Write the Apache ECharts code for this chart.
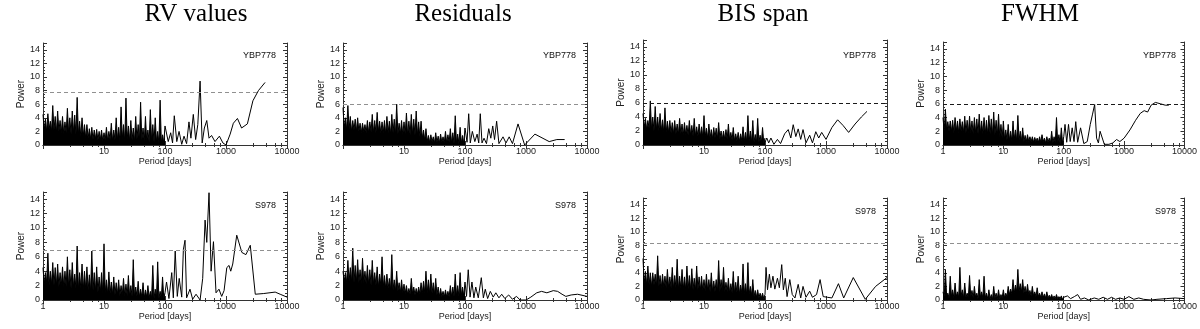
<!DOCTYPE html>
<html><head><meta charset="utf-8">
<script src="https://cdn.jsdelivr.net/npm/echarts/dist/echarts.min.js"></script>
<style>html,body{margin:0;padding:0;background:#fff}#c{width:1200px;height:329px}</style>
</head><body><div id="c"></div>
<script>
// ---- data ----
const panelTitles = ['RV values', 'Residuals', 'BIS span', 'FWHM'];
const starNames = ['YBP778', 'S978'];
const xTickLabels = [1, 10, 100, 1000, 10000];
const yTickLabels = [0, 2, 4, 6, 8, 10, 12, 14];

// periods (days) of the dense short-period part (1-100 d); even entries carry the spike tops, odd entries the noise floor
const finePeriods = [1,1.047,1.096,1.148,1.202,1.259,1.318,1.380,1.445,1.514,1.585,1.660,1.738,1.820,1.905,1.995,2.089,2.188,2.291,2.399,2.512,2.630,2.754,2.884,3.020,3.162,3.311,3.467,3.631,3.802,3.981,4.169,4.365,4.571,4.786,5.012,5.248,5.495,5.754,6.026,6.310,6.607,6.918,7.244,7.586,7.943,8.318,8.710,9.120,9.550,10,10.47,10.96,11.48,12.02,12.59,13.18,13.80,14.45,15.14,15.85,16.60,17.38,18.20,19.05,19.95,20.89,21.88,22.91,23.99,25.12,26.30,27.54,28.84,30.20,31.62,33.11,34.67,36.31,38.02,39.81,41.69,43.65,45.71,47.86,50.12,52.48,54.95,57.54,60.26,63.10,66.07,69.18,72.44,75.86,79.43,83.18,87.10,91.20,95.50,100];

// ---- YBP778 (top row) ----
const rvTopPeaks = [4.5,3.8,4.6,3.5,5.8,4.2,5.0,3.6,4.2,3.4,5.4,4.0,5.0,4.4,7.0,3.5,4.0,3.0,3.0,2.4,2.6,2.2,2.3,2.0,2.2,1.8,2.6,2.0,3.2,2.2,4.0,2.6,5.6,3.0,6.9,2.8,3.6,2.5,4.2,3.0,6.3,2.5,4.2,2.2,5.2,3.0,4.0,2.0,6.6,1.5,2.8];
const rvTopFloor = [2.2,2.0,2.3,2.0,2.2,1.8,2.0,1.8,1.6,1.8,1.8,1.6,1.8,1.5,1.6,1.2,1.3,1.0,1.0,0.9,0.8,0.9,0.7,0.8,0.6,0.7,0.6,0.8,0.6,0.7,0.8,0.6,0.9,0.5,0.8,0.6,0.7,0.5,0.8,0.5,0.7,0.5,0.6,0.4,0.6,0.4,0.5,0.3,0.4,0.3];
const rvTopTail = [[100,2.8],[113,0.5],[124,1.8],[133,0.3],[142,4.3],[156,0.5],[170,2.0],[188,0.1],[205,1.3],[226,0.2],[247,3.4],[266,1.0],[291,4.5],[318,0.8],[345,3.0],[376,9.4],[407,0.3],[442,2.5],[484,3.6],[527,1.0],[580,1.4],[660,0.5],[780,1.3],[890,0.3],[1000,0.0],[1170,1.6],[1320,3.2],[1540,3.9],[1800,2.5],[2240,3.1],[2760,6.5],[3400,8.0],[4370,9.2]];

const resTopPeaks = [5.5,4.0,5.8,4.2,3.6,3.8,4.0,3.2,3.2,3.0,3.6,3.4,4.5,3.6,4.8,3.5,3.4,3.6,4.2,3.5,4.5,3.8,6.0,3.2,3.6,3.4,4.7,3.5,4.5,3.8,5.0,3.4,3.5,2.2,2.4,1.4,1.5,1.2,1.8,1.3,1.6,1.2,2.0,1.5,2.4,1.8,4.3,1.6,2.6,1.4,2.5];
const resTopFloor = [2.5,2.2,2.4,2.0,2.2,2.0,2.0,1.8,2.0,1.8,1.8,2.0,1.8,1.8,2.0,1.7,1.8,1.6,1.8,1.6,1.8,1.5,1.6,1.6,1.5,1.6,1.4,1.5,1.6,1.4,1.5,1.2,1.0,0.7,0.5,0.4,0.5,0.3,0.4,0.3,0.4,0.3,0.3,0.4,0.3,0.2,0.3,0.2,0.3,0.2];
const resTopTail = [[100,2.5],[108,0.4],[115,4.6],[122,0.3],[132,2.0],[145,0.5],[158,1.6],[168,0.3],[178,4.6],[190,0.3],[205,1.0],[225,0.2],[245,2.4],[265,1.0],[285,2.8],[305,0.8],[330,3.5],[360,0.2],[420,1.2],[470,0.3],[530,1.2],[600,0.2],[740,3.1],[950,0.0],[1400,1.6],[2400,0.5],[3200,0.8],[4300,0.8]];

const bisTopPeaks = [4.5,3.8,3.5,6.3,4.0,5.5,4.0,4.5,3.6,5.3,3.4,3.5,3.2,3.5,3.0,3.8,3.0,3.2,2.8,3.5,2.8,3.8,2.6,3.0,2.6,4.2,2.4,3.0,2.2,2.5,2.4,3.2,2.0,2.0,2.2,3.0,1.8,2.5,1.6,1.8,1.6,2.6,1.8,4.2,2.0,3.5,1.5,3.8,1.4,2.5,1.0];
const bisTopFloor = [2.4,2.2,2.4,2.2,2.0,2.2,2.0,2.0,1.8,1.8,1.8,1.7,1.6,1.6,1.5,1.6,1.4,1.5,1.4,1.4,1.3,1.3,1.2,1.2,1.1,1.2,1.0,1.0,0.9,1.0,0.9,0.9,0.8,0.8,0.8,0.7,0.7,0.6,0.6,0.5,0.6,0.5,0.5,0.5,0.4,0.4,0.3,0.4,0.3,0.3];
const bisTopTail = [[100,0.4],[107,1.0],[115,0.3],[125,1.0],[140,0.1],[160,0.8],[180,0.2],[210,1.6],[240,2.2],[265,1.0],[290,2.9],[320,1.2],[350,2.3],[385,0.8],[420,2.2],[470,0.3],[540,1.4],[600,0.3],[680,1.9],[760,1.0],[850,1.8],[1000,0.8],[1250,2.5],[1550,3.6],[1900,2.8],[2350,1.8],[3000,3.0],[3800,4.0],[4700,4.8]];

const fwhmTopPeaks = [4.0,5.2,3.4,3.5,3.6,4.0,3.5,3.8,3.4,4.2,3.6,4.2,3.5,4.0,3.8,4.5,3.5,4.0,3.6,4.3,3.8,4.8,3.6,4.5,3.0,3.5,2.2,3.0,2.0,3.5,2.2,4.3,2.0,2.5,1.4,1.5,1.2,1.2,1.1,1.0,1.2,1.5,1.0,1.2,1.0,2.0,1.2,4.0,1.5,2.5,1.2];
const fwhmTopFloor = [2.0,2.2,2.0,2.0,1.8,2.0,1.8,2.0,1.8,1.8,1.8,1.8,1.6,1.8,1.6,1.7,1.6,1.6,1.5,1.6,1.5,1.5,1.4,1.2,1.0,0.8,0.7,0.7,0.6,0.8,0.6,0.7,0.6,0.5,0.5,0.5,0.5,0.4,0.5,0.4,0.4,0.5,0.3,0.4,0.3,0.3,0.3,0.3,0.2,0.3];
const fwhmTopTail = [[100,1.2],[105,3.0],[112,0.4],[120,3.0],[128,0.5],[138,2.5],[148,0.5],[158,3.4],[170,0.4],[190,2.5],[215,0.2],[245,0.5],[275,3.0],[300,4.5],[325,5.9],[350,1.0],[375,0.3],[400,2.0],[430,1.8],[470,0.1],[560,0.1],[650,0.3],[750,0.8],[850,0.5],[1000,1.0],[1250,2.2],[1550,3.6],[1850,4.6],[2150,5.0],[2450,4.8],[2800,5.8],[3300,6.2],[4000,6.0],[4800,5.8],[5500,5.8]];

// ---- S978 (bottom row) ----
const rvBotPeaks = [4.5,3.8,6.5,4.0,5.2,4.5,5.0,3.8,4.6,4.0,6.0,4.2,5.2,3.6,7.5,3.8,5.0,4.0,4.6,3.5,6.8,3.8,4.6,3.2,3.8,7.8,2.8,3.9,2.5,3.2,2.4,2.8,2.0,3.0,2.2,3.4,2.0,5.6,1.8,2.6,1.5,2.4,1.4,2.0,1.2,4.8,1.5,5.3,1.2,3.2,1.0];
const rvBotFloor = [2.2,2.4,2.0,2.2,2.0,2.0,1.8,2.0,1.8,1.8,1.8,1.6,1.8,1.6,1.5,1.6,1.4,1.5,1.4,1.2,1.3,1.2,1.0,1.1,0.9,1.0,0.8,0.9,0.8,0.7,0.8,0.6,0.7,0.6,0.6,0.5,0.5,0.4,0.5,0.4,0.4,0.3,0.4,0.3,0.3,0.2,0.3,0.2,0.2,0.2];
const rvBotTail = [[100,1.0],[106,2.5],[116,0.2],[129,3.8],[137,0.3],[147,6.8],[159,0.5],[171,3.0],[188,0.4],[200,7.0],[213,8.3],[226,0.3],[257,1.5],[284,0.1],[323,0.8],[376,0.0],[415,3.0],[454,11.1],[484,8.0],[527,14.9],[570,4.0],[623,8.1],[686,1.0],[766,1.5],[850,0.5],[930,1.3],[1030,4.5],[1122,4.8],[1196,4.0],[1290,5.0],[1500,9.0],[1820,6.6],[2120,6.3],[2500,7.6],[3020,0.8],[4160,0.9],[6400,1.1],[7730,0.8],[10000,0.4]];

const resBotPeaks = [4.0,3.8,5.5,4.5,7.2,4.8,5.6,4.2,5.8,4.0,4.8,4.2,5.5,3.8,4.6,3.6,6.0,3.4,3.6,3.0,6.3,2.8,4.0,2.4,2.8,2.2,2.0,1.6,3.0,1.8,1.6,1.8,2.4,2.6,4.0,2.8,3.6,2.4,3.0,1.8,1.6,1.2,1.4,1.2,2.0,1.8,3.6,2.0,3.8,1.8,2.5];
const resBotFloor = [2.5,2.4,2.6,2.5,2.4,2.5,2.4,2.2,2.4,2.2,2.2,2.0,2.2,2.0,1.8,2.0,1.8,1.6,1.6,1.4,1.4,1.2,1.2,1.0,1.0,0.9,0.8,0.8,0.9,0.7,0.8,0.8,0.9,1.0,1.0,0.9,0.9,0.8,0.7,0.5,0.5,0.4,0.4,0.4,0.5,0.5,0.6,0.5,0.6,0.5];
const resBotTail = [[100,2.5],[106,0.5],[113,4.2],[121,0.4],[130,2.5],[140,0.3],[150,1.8],[165,0.3],[185,3.1],[200,0.3],[215,1.5],[235,0.2],[260,1.2],[290,0.4],[320,1.0],[360,0.3],[400,0.8],[450,0.2],[520,0.7],[600,0.1],[700,0.5],[800,0.0],[1000,0.0],[1200,0.4],[1500,1.0],[1800,1.2],[2200,1.0],[2800,1.3],[3300,1.2],[3900,0.8],[4500,0.5],[5500,0.7],[7000,0.8],[10000,0.5]];

const bisBotPeaks = [6.1,4.2,5.0,4.0,4.0,3.8,6.5,3.6,3.8,3.5,4.5,3.4,4.8,3.6,6.0,3.5,4.5,3.4,5.0,3.6,4.6,3.2,5.0,3.4,3.5,3.0,3.8,3.0,4.0,2.8,3.0,5.8,3.0,4.8,2.6,3.2,2.4,4.2,2.6,3.5,2.2,5.3,2.4,5.5,2.0,3.0,1.4,1.5,1.0,1.0,0.8];
const bisBotFloor = [2.4,2.2,2.2,2.0,2.2,2.0,2.0,1.8,2.0,1.8,1.8,1.8,1.7,1.8,1.6,1.7,1.6,1.5,1.6,1.5,1.5,1.4,1.5,1.4,1.4,1.3,1.4,1.2,1.3,1.2,1.2,1.2,1.3,1.1,1.2,1.0,1.1,1.0,1.1,0.9,1.0,0.9,0.8,0.8,0.7,0.5,0.4,0.3,0.3,0.2];
const bisBotTail = [[100,0.8],[104,4.8],[110,1.5],[118,3.8],[125,1.8],[135,3.5],[145,1.6],[160,3.2],[172,1.8],[188,5.2],[200,1.5],[215,3.2],[230,0.5],[255,3.0],[280,0.8],[310,0.3],[350,2.3],[385,0.3],[420,2.0],[470,0.4],[540,1.3],[600,0.4],[700,0.8],[800,3.0],[900,0.5],[1050,0.4],[1250,0.3],[1600,2.4],[1950,0.3],[2800,3.3],[4400,0.1],[6500,2.0],[10000,3.3]];

const fwhmBotPeaks = [1.2,4.5,1.0,3.5,1.5,2.5,1.2,4.8,1.5,2.5,1.0,3.6,1.4,2.0,1.0,3.0,1.2,3.5,1.0,1.5,0.8,2.0,1.0,1.5,0.8,1.5,1.0,2.0,1.6,3.0,2.2,4.5,2.4,3.0,2.0,2.3,1.4,2.0,1.2,1.8,1.0,1.2,0.9,1.2,0.7,0.8,0.6,0.8,0.5,0.6,0.4];
const fwhmBotFloor = [0.4,0.6,0.3,0.5,0.3,0.5,0.4,0.6,0.3,0.4,0.3,0.5,0.3,0.4,0.2,0.4,0.3,0.3,0.2,0.2,0.1,0.3,0.2,0.2,0.3,0.3,0.5,0.8,0.9,1.0,1.2,1.3,1.2,1.0,0.9,0.8,0.6,0.6,0.5,0.5,0.4,0.4,0.3,0.3,0.3,0.2,0.2,0.2,0.2,0.1];
const fwhmBotTail = [[100,0.4],[115,0.6],[130,0.2],[150,0.5],[170,0.8],[190,0.1],[220,0.3],[260,0.0],[320,0.3],[380,0.1],[450,0.4],[530,0.1],[620,0.4],[720,0.1],[850,0.3],[1000,0.1],[1200,0.5],[1450,0.1],[1750,0.3],[2100,0.1],[2800,0.0],[3500,0.1],[5000,0.2],[7000,0.3],[10000,0.2]];

// false-alarm thresholds (power)
const thresholdsTop = [7.7, 6.0, 6.0, 6.0];
const thresholdsBottom = [6.9, 6.9, 8.3, 8.3];

// ---- layout / styles ----
const peakSets = [rvTopPeaks, resTopPeaks, bisTopPeaks, fwhmTopPeaks, rvBotPeaks, resBotPeaks, bisBotPeaks, fwhmBotPeaks];
const floorSets = [rvTopFloor, resTopFloor, bisTopFloor, fwhmTopFloor, rvBotFloor, resBotFloor, bisBotFloor, fwhmBotFloor];
const tailSets = [rvTopTail, resTopTail, bisTopTail, fwhmTopTail, rvBotTail, resBotTail, bisBotTail, fwhmBotTail];
const thresholds = thresholdsTop.concat(thresholdsBottom);
const thrColors = ['#909090', '#909090', '#1a1a1a', '#1a1a1a', '#909090', '#909090', '#909090', '#909090'];

const colLeft = [43, 343, 643, 943];
const plotW = 244;
const rowTop = [[43, 43, 40, 42], [192, 192, 198, 198]];
const rowBottom = [145, 300];
const titleX = [196, 463, 763, 1040];
const starY = [[56, 56, 56, 56], [206, 206, 212, 212]];
const SANS = '"Liberation Sans Narrow", "Liberation Sans", Arial, Helvetica, sans-serif';
const AX = '#333';

const grids = [], xAxes = [], yAxes = [], series = [], graphics = [];

for (let r = 0; r < 2; r++) {
  for (let c = 0; c < 4; c++) {
    const i = r * 4 + c;
    const top = rowTop[r][c];
    grids.push({ left: colLeft[c], top: top, width: plotW, height: rowBottom[r] - top });
    const tickCommon = { inside: true, length: 4, lineStyle: { color: AX, width: 1 } };
    const minorCommon = { show: true, splitNumber: 5, length: 2, lineStyle: { color: AX, width: 1 } };
    xAxes.push({
      gridIndex: i, type: 'log', logBase: 10, min: 1, max: 10000, position: 'bottom',
      axisLine: { lineStyle: { color: AX, width: 1 } },
      axisTick: tickCommon, minorTick: minorCommon,
      splitLine: { show: false }, minorSplitLine: { show: false },
      axisLabel: {
        margin: 2, fontSize: 9, color: '#222', fontFamily: SANS,
        showMinLabel: !(r === 0 && c < 3),
        formatter: function (v) { const n = Math.round(v); return xTickLabels.indexOf(n) >= 0 ? String(n) : ''; }
      },
      name: 'Period [days]', nameLocation: 'middle', nameGap: r === 0 ? 10 : 12,
      nameTextStyle: { fontSize: 9, color: '#222', fontFamily: '"Liberation Sans", Arial, sans-serif' }
    });
    xAxes.push({
      gridIndex: i, type: 'log', logBase: 10, min: 1, max: 10000, position: 'top',
      axisLine: { lineStyle: { color: AX, width: 1 } },
      axisTick: tickCommon, minorTick: minorCommon,
      splitLine: { show: false }, minorSplitLine: { show: false },
      axisLabel: { show: false }
    });
    yAxes.push({
      gridIndex: i, type: 'value', min: 0, max: 15, interval: 2, position: 'left',
      axisLine: { show: true, lineStyle: { color: AX, width: 1 } },
      axisTick: tickCommon, minorTick: { show: true, splitNumber: 4, length: 2, lineStyle: { color: AX, width: 1 } },
      splitLine: { show: false },
      axisLabel: {
        margin: 3, fontSize: 9, color: '#222', fontFamily: SANS, showMaxLabel: false,
        formatter: function (v) { return yTickLabels.indexOf(v) >= 0 ? String(v) : ''; }
      },
      name: 'Power', nameLocation: 'middle', nameGap: r === 0 ? 16 : 15,
      nameTextStyle: { fontSize: 10, color: '#222', fontFamily: '"Liberation Sans", Arial, sans-serif' }
    });
    yAxes.push({
      gridIndex: i, type: 'value', min: 0, max: 15, interval: 2, position: 'right',
      axisLine: { show: true, lineStyle: { color: AX, width: 1 } },
      axisTick: tickCommon, minorTick: { show: true, splitNumber: 4, length: 2, lineStyle: { color: AX, width: 1 } },
      splitLine: { show: false }, axisLabel: { show: false }
    });
    const peaks = peakSets[i], floor = floorSets[i];
    series.push({
      type: 'line', xAxisIndex: 2 * i, yAxisIndex: 2 * i,
      data: finePeriods.map(function (p, j) { return [p, j % 2 === 0 ? peaks[j / 2] : floor[(j - 1) / 2]]; }),
      symbol: 'none', silent: true,
      lineStyle: { color: '#000', width: 1 },
      areaStyle: { color: '#000', opacity: 1 }
    });
    series.push({
      type: 'line', xAxisIndex: 2 * i, yAxisIndex: 2 * i,
      data: tailSets[i], symbol: 'none', silent: true,
      lineStyle: { color: '#000', width: 1 },
      markLine: {
        silent: true, symbol: 'none', label: { show: false },
        lineStyle: { type: [4, 3], color: thrColors[i], width: 1 },
        data: [{ yAxis: thresholds[i] }]
      }
    });
    graphics.push({
      type: 'text', x: colLeft[c] + plotW - 11, y: starY[r][c],
      style: { text: starNames[r], fill: '#111', font: '9px "Liberation Sans", Arial, sans-serif', align: 'right', verticalAlign: 'middle', textAlign: 'right', textVerticalAlign: 'middle' }
    });
  }
}
for (let c = 0; c < 4; c++) {
  graphics.push({
    type: 'text', x: titleX[c], y: 14,
    style: { text: panelTitles[c], fill: '#000', font: '25px "Liberation Serif", "Times New Roman", serif', align: 'center', verticalAlign: 'middle', textAlign: 'center', textVerticalAlign: 'middle' }
  });
}

const chart = echarts.init(document.getElementById('c'), null, { renderer: 'canvas' });
chart.setOption({
  animation: false,
  backgroundColor: '#fff',
  grid: grids, xAxis: xAxes, yAxis: yAxes, series: series, graphic: graphics
});
</script>
</body></html>
